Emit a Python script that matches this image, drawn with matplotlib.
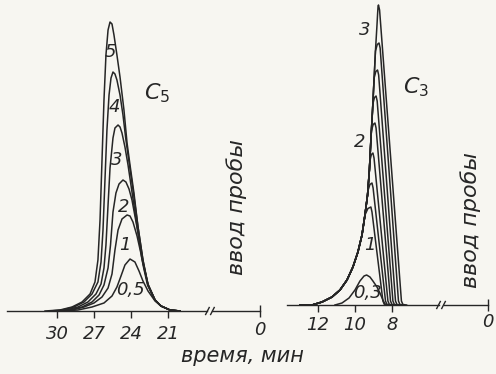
import matplotlib
matplotlib.use("Agg")
import matplotlib.pyplot as plt
import numpy as np

INK = "#262626"
PAPER = "#f7f6f1"
NARROW = ["Liberation Sans Narrow", "DejaVu Sans"]
plt.rcParams["mathtext.fontset"] = "dejavusans"

# ---- C5: elution time (min) vs detector signal (arb. units), one curve per sample size
C5_SIZES = ["5", "4", "3", "2", "1", "0,5"]
C5_TIME = [
    [30.97, 29.76, 28.78, 27.97, 27.32, 26.92, 26.68, 26.51, 26.35, 26.19, 26.03, 25.86, 25.70, 25.54,
     25.38, 25.14, 24.89, 24.57, 24.32, 24.08, 23.76, 23.43, 23.03, 22.62, 22.05, 21.57, 20.84, 20.03],
    [30.57, 29.59, 28.62, 27.81, 27.16, 26.68, 26.43, 26.27, 26.11, 25.95, 25.78, 25.62, 25.46, 25.30,
     25.14, 24.89, 24.65, 24.41, 24.16, 23.80, 23.43, 23.03, 22.62, 22.05, 21.57, 20.84, 20.03],
    [30.16, 29.27, 28.30, 27.49, 26.84, 26.43, 26.19, 26.03, 25.86, 25.70, 25.46, 25.30, 25.05, 24.89,
     24.73, 24.49, 24.24, 23.92, 23.51, 23.11, 22.62, 22.05, 21.57, 20.84, 20.03],
    [29.92, 28.95, 27.97, 27.16, 26.59, 26.19, 25.86, 25.66, 25.46, 25.22, 24.97, 24.65, 24.41, 24.16,
     23.92, 23.59, 23.27, 23.00, 22.62, 22.05, 21.57, 20.84, 20.03],
    [29.76, 28.78, 27.81, 27.00, 26.35, 25.86, 25.54, 25.30, 25.05, 24.73, 24.32, 24.08, 23.84, 23.51,
     23.22, 22.97, 22.66, 22.07, 21.57, 20.84, 20.03],
    [29.59, 28.30, 27.16, 26.19, 25.54, 25.14, 24.81, 24.49, 24.08, 23.68, 23.35, 23.03, 22.62, 22.05,
     21.57, 20.84, 20.03],
]
C5_SIGNAL = [
    [0, 1, 4, 9, 17, 29, 51, 91, 151, 211, 256, 281, 289, 287, 276, 256, 234, 201, 168, 146, 118, 84,
     51, 26, 11, 5, 1, 0],
    [0, 1, 4, 9, 17, 29, 49, 81, 131, 181, 216, 233, 239, 237, 231, 216, 196, 171, 149, 118, 84, 51,
     26, 11, 5, 1, 0],
    [0, 1, 4, 9, 17, 27, 43, 66, 106, 143, 173, 183, 186, 184, 178, 164, 146, 119, 85, 52, 26, 11, 5, 1, 0],
    [0, 1, 4, 9, 16, 26, 43, 66, 99, 118, 127, 131, 129, 122, 111, 89, 67, 47, 27, 11, 5, 1, 0],
    [0, 1, 4, 8, 14, 23, 37, 61, 81, 92, 96, 95, 89, 75, 59, 43, 26, 11, 5, 1, 0],
    [0, 1, 4, 8, 15, 24, 35, 46, 52, 49, 40, 30, 20, 10, 5, 1, 0],
]
C5_LABEL_T = [25.65, 25.35, 25.16, 24.62, 24.49, 24.08]
C5_LABEL_H = [259, 204, 151, 104, 66, 21]
C5_TICKS = [30, 27, 24, 21]
C5_ZERO = 13.54       # sample injection mark, drawn after the axis break
C5_BREAK = 17.6

# ---- C3: common tailing edge, then each curve peels off at its apex and drops to its front
C3_ENV_T = [12.97, 12.32, 11.78, 11.24, 10.81, 10.43, 10.11, 9.84, 9.62, 9.46, 9.32, 9.22, 9.14,
            9.05, 8.97, 8.89, 8.81, 8.76]
C3_ENV_H = [0, 0, 3, 8, 15, 25, 38, 53, 70, 90, 110, 135, 165, 195, 225, 255, 280, 297]
C3_APEX_T = [8.73, 8.70, 8.78, 8.86, 8.92, 9.03, 9.08, 9.14]
C3_APEX_H = [300, 262, 235, 209, 182, 152, 122, 98]
C3_FRONT_T = [7.46, 7.62, 7.78, 7.92, 8.05, 8.19, 8.32, 8.46]
C3_SMALL_T = [11.08, 10.70, 10.32, 10.00, 9.73, 9.51, 9.37, 9.19, 9.03, 8.81, 8.65, 8.49, 8.38, 8.16]
C3_SMALL_H = [0, 2, 7, 15, 24, 29, 30, 28, 24, 18, 12, 5, 1, 0]
C3_SIZES = ["3", "2", "1", "0,3"]
C3_LABEL_T = [9.46, 9.73, 9.19, 9.30]
C3_LABEL_H = [275, 163, 60, 12]
C3_TICKS = [12, 10, 8]
C3_ZERO = 2.81
C3_BREAK = 5.35


def time_axis(ax, ticks, zero, brk, start, px, pad):
    gap = 2.5 * px
    ax.plot([start, brk + gap], [0, 0], color=INK, lw=1.0, clip_on=False)
    ax.plot([brk - gap, zero], [0, 0], color=INK, lw=1.0, clip_on=False)
    for off in (gap, -gap):
        ax.plot([brk + off + 1.8 * px, brk + off - 1.8 * px], [-3.5, 3.5], color=INK, lw=1.0,
                clip_on=False)
    ax.set_xticks(ticks, [str(t) for t in ticks])
    ax.set_xticks([zero], ["0"], minor=True)
    ax.tick_params(which="major", direction="out", length=5, width=1, colors=INK, pad=pad)
    ax.tick_params(which="minor", direction="inout", length=9, width=1, colors=INK, pad=pad - 2)
    for lbl in ax.get_xticklabels(which="both"):
        lbl.set_fontfamily(NARROW)
        lbl.set_fontstyle("italic")
        lbl.set_fontsize(13)
    ax.set_yticks([])
    for s in ax.spines.values():
        s.set_visible(False)
    ax.set_facecolor("none")


def side_text(ax, t, h):
    ax.text(t, h, "ввод пробы", rotation=90, ha="center", va="center", fontsize=16,
            fontstyle="italic", color=INK)


fig = plt.figure(figsize=(4.96, 3.74), dpi=100, facecolor=PAPER)

# left panel, C5
axl = fig.add_axes([0, 63 / 374, 270 / 496, 311 / 374])
axl.set_xlim(34.62, 12.73)
axl.set_ylim(0, 311)
for ts, hs in zip(C5_TIME, C5_SIGNAL):
    axl.plot(ts, hs, color=INK, lw=1.1, solid_joinstyle="round")
for lab, t, h in zip(C5_SIZES, C5_LABEL_T, C5_LABEL_H):
    axl.text(t, h, lab, ha="center", va="center", fontsize=13, fontstyle="italic",
             family=NARROW, color=INK)
axl.text(21.89, 218, "$C_5$", ha="center", va="center", fontsize=16, color=INK)
side_text(axl, 15.40, 104)
time_axis(axl, C5_TICKS, C5_ZERO, C5_BREAK, 34.05, 0.0811, 5)

# right panel, C3
axr = fig.add_axes([280 / 496, 69 / 374, 216 / 496, 305 / 374])
axr.set_xlim(14.05, 2.38)
axr.set_ylim(0, 305)
env_t = np.array(C3_ENV_T)
env_h = np.array(C3_ENV_H)
for ta, ha, tf in zip(C3_APEX_T, C3_APEX_H, C3_FRONT_T):
    keep = env_h < ha - 8
    te = np.interp(ha - 8, env_h, env_t)
    ts = list(env_t[keep]) + [te, (te + ta) / 2, ta, ta - 0.06, tf + 0.03, tf - 0.05, tf - 0.25]
    hs = list(env_h[keep]) + [ha - 8, ha - 1.5, ha, ha - 5, 4, 0.5, 0]
    axr.plot(ts, hs, color=INK, lw=1.1, solid_joinstyle="round")
axr.plot(C3_SMALL_T, C3_SMALL_H, color=INK, lw=1.1)
for lab, t, h in zip(C3_SIZES, C3_LABEL_T, C3_LABEL_H):
    axr.text(t, h, lab, ha="center", va="center", fontsize=13, fontstyle="italic",
             family=NARROW, color=INK)
axr.text(6.70, 218, "$C_3$", ha="center", va="center", fontsize=16, color=INK)
side_text(axr, 3.73, 85)
time_axis(axr, C3_TICKS, C3_ZERO, C3_BREAK, 13.68, 0.05405, 3)

fig.text(242 / 496, 1 - 356 / 374, "время, мин", ha="center", va="center", fontsize=15,
         fontstyle="italic", color=INK)

fig.savefig("out.png", dpi=100, facecolor=PAPER)
